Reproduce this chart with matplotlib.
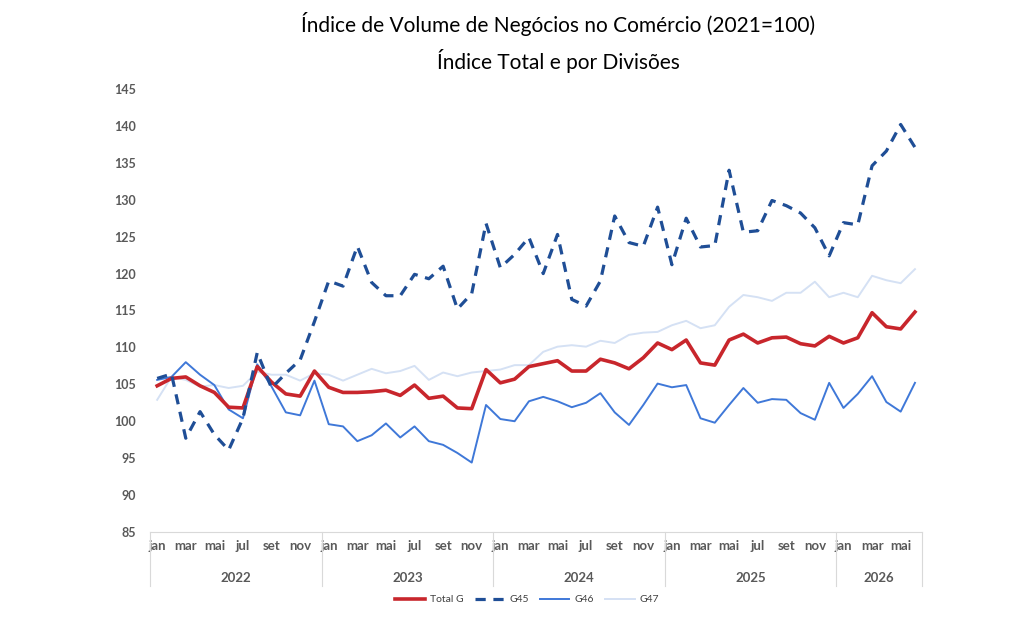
import matplotlib
matplotlib.use("Agg")
import matplotlib.pyplot as plt

plt.rcParams['font.family'] = ['Lato', 'DejaVu Sans']

# months jan 2022 .. jun 2026
month_names = ['jan', 'fev', 'mar', 'abr', 'mai', 'jun', 'jul', 'ago', 'set', 'out', 'nov', 'dez']
years = ['2022', '2023', '2024', '2025', '2026']
months_per_year = [12, 12, 12, 12, 6]

total_g = [104.8, 105.8, 106.0, 104.8, 103.9, 101.9, 101.8, 107.4, 105.3, 103.7, 103.4, 106.8,
           104.6, 103.9, 103.9, 104.0, 104.2, 103.5, 104.9, 103.1, 103.4, 101.8, 101.7, 107.0,
           105.2, 105.7, 107.4, 107.8, 108.2, 106.8, 106.8, 108.4, 107.9, 107.1, 108.6, 110.6,
           109.7, 111.0, 107.9, 107.6, 111.0, 111.8, 110.6, 111.3, 111.4, 110.5, 110.2, 111.5,
           110.6, 111.3, 114.7, 112.8, 112.5, 114.8]

g45 = [105.8, 106.4, 97.7, 101.3, 98.2, 96.1, 100.4, 109.3, 104.5, 106.5, 108.3, 113.5,
       119.0, 118.3, 123.7, 118.8, 117.0, 117.0, 119.9, 119.3, 121.0, 115.2, 117.3, 126.8,
       120.8, 122.6, 124.9, 120.0, 125.3, 116.5, 115.6, 119.0, 127.8, 124.2, 123.7, 129.0,
       121.2, 127.5, 123.6, 123.8, 134.0, 125.6, 125.8, 129.9, 129.2, 128.2, 126.2, 122.4,
       126.9, 126.6, 134.6, 136.6, 140.2, 137.1]

g46 = [105.6, 106.0, 108.0, 106.3, 104.9, 101.6, 100.4, 107.7, 104.7, 101.2, 100.8, 105.5,
       99.6, 99.3, 97.3, 98.1, 99.7, 97.8, 99.3, 97.3, 96.8, 95.7, 94.4, 102.2,
       100.3, 100.0, 102.7, 103.3, 102.7, 101.9, 102.5, 103.8, 101.2, 99.5, 102.2, 105.1,
       104.6, 104.9, 100.4, 99.8, 102.2, 104.5, 102.5, 103.0, 102.9, 101.1, 100.2, 105.2,
       101.8, 103.7, 106.1, 102.6, 101.3, 105.2]

g47 = [102.9, 106.0, 105.6, 104.7, 104.9, 104.5, 104.8, 106.7, 106.3, 106.3, 105.5, 106.5,
       106.3, 105.5, 106.3, 107.1, 106.5, 106.8, 107.5, 105.6, 106.6, 106.1, 106.6, 106.8,
       107.0, 107.6, 107.6, 109.4, 110.1, 110.3, 110.1, 110.9, 110.6, 111.7, 112.0, 112.1,
       113.0, 113.6, 112.6, 113.0, 115.5, 117.1, 116.8, 116.3, 117.4, 117.4, 118.9, 116.8,
       117.4, 116.8, 119.7, 119.1, 118.7, 120.6]

x = list(range(len(total_g)))
grey = '#595959'

fig = plt.figure(figsize=(10.24, 6.26), dpi=100)
ax = fig.add_axes([0.1465, 0.1502, 0.754, 0.7076])

ax.plot(x, total_g, color='#C8262C', lw=2.6, label='Total G', zorder=3)
ax.plot(x, g45, color='#1F4E96', lw=2.3, dashes=(3.2, 2.4), label='G45', zorder=4)
ax.plot(x, g46, color='#3F78D8', lw=1.4, label='G46', zorder=2)
ax.plot(x, g47, color='#D5E1F4', lw=1.4, label='G47', zorder=1)

ax.set_xlim(-0.5, len(x) - 0.5)
ax.set_ylim(85, 145)
ax.set_yticks(range(85, 146, 5))
ax.tick_params(axis='y', length=0, labelsize=9, labelcolor=grey, pad=10)
for lab in ax.get_yticklabels():
    lab.set_fontweight('bold')

for s in ['top', 'right', 'left']:
    ax.spines[s].set_visible(False)
ax.spines['bottom'].set_color('#D9D9D9')
ax.spines['bottom'].set_linewidth(0.8)

# month labels (every other month) and year groups
ticks = []
labels = []
start = 0
bounds = [-0.5]
for yr, n in zip(years, months_per_year):
    for m in range(0, n, 2):
        ticks.append(start + m)
        labels.append(month_names[m])
    ax.text(start + (n - 1) / 2, -0.105, yr, transform=ax.get_xaxis_transform(),
            ha='center', va='center', fontsize=9.5, color=grey, fontweight='bold')
    start += n
    bounds.append(start - 0.5)
ax.set_xticks(ticks)
ax.set_xticklabels(labels)
ax.tick_params(axis='x', length=0, labelsize=9.5, labelcolor=grey, pad=6)
for lab in ax.get_xticklabels():
    lab.set_fontweight('bold')

for b in bounds:
    ax.plot([b, b], [0, -0.122], transform=ax.get_xaxis_transform(), color='#D9D9D9',
            lw=0.8, clip_on=False)

fig.text(0.545, 0.962, 'Índice de Volume de Negócios no Comércio (2021=100)',
         ha='center', va='center', fontsize=15)
fig.text(0.545, 0.902, 'Índice Total e por Divisões', ha='center', va='center', fontsize=15)

fig.legend(loc='center', bbox_to_anchor=(0.515, 0.042), ncol=4, frameon=False,
           fontsize=7.5, handlelength=2.8, columnspacing=1.1, handletextpad=0.5,
           labelcolor='#404040')

fig.savefig('out.png', dpi=100)
